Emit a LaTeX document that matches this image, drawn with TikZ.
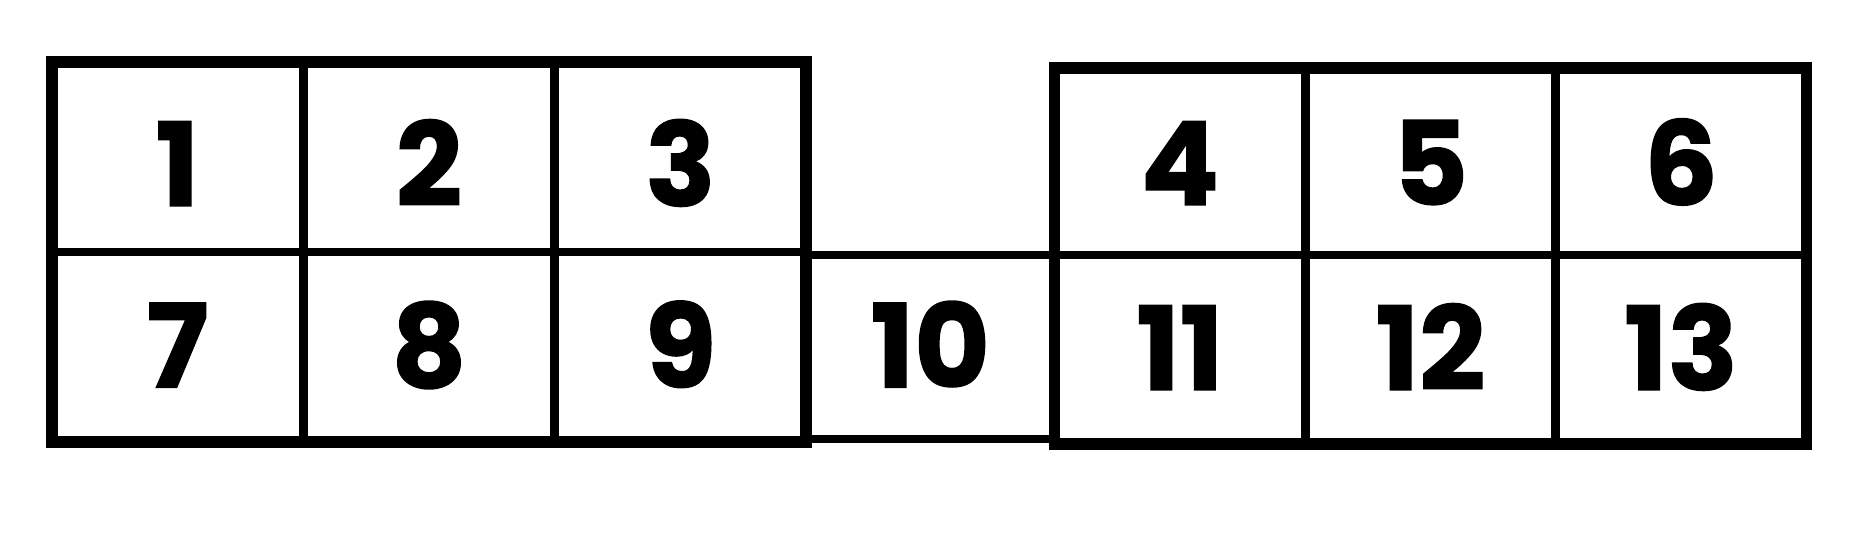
\documentclass[tikz,border=0pt]{standalone}
\usepackage{fontspec}
\setmainfont{Poppins}[BoldFeatures={FakeBold=1.2}]

\begin{document}
\begin{tikzpicture}[every node/.style={rectangle, draw, line width=2.4pt, inner sep=0pt, outer sep=0pt,
    minimum width=2.51cm, text height=23pt, text depth=0pt, font=\fontsize{33}{33}\selectfont\bfseries}]
                \useasboundingbox (0,0) rectangle (18.7,-5.44);
                % upper row
                \node[minimum height=1.90cm] (c1) at (1.775,-1.57) {\raisebox{-0.085cm}{1}};
                \node[minimum height=1.90cm] (c2) at (4.29,-1.57) {\raisebox{-0.085cm}{2}};
                \node[minimum height=1.90cm] (c3) at (6.805,-1.57) {\raisebox{-0.085cm}{3}};
                \node[minimum height=1.87cm] (c4) at (11.80,-1.615) {\raisebox{-0.03cm}{4}};
                \node[minimum height=1.87cm] (c5) at (14.305,-1.615) {\raisebox{-0.03cm}{5}};
                \node[minimum height=1.87cm] (c6) at (16.81,-1.615) {\raisebox{-0.03cm}{6}};
                % lower row
                \node[minimum height=1.90cm] (c7) at (1.775,-3.47) {7};
                \node[minimum height=1.90cm] (c8) at (4.29,-3.47) {8};
                \node[minimum height=1.90cm] (c9) at (6.805,-3.47) {9};
                \node[minimum height=1.84cm, minimum width=2.485cm] (c10) at (9.3025,-3.47) {10};
                \node[minimum height=1.89cm] (c11) at (11.80,-3.495) {11};
                \node[minimum height=1.89cm] (c12) at (14.305,-3.495) {12};
                \node[minimum height=1.89cm] (c13) at (16.81,-3.495) {13};
                % heavier outline of the two blocks
                \draw[line width=3.2pt] (c1.north west) rectangle (c9.south east);
                \draw[line width=3.2pt] (c4.north west) rectangle (c13.south east);
                \end{tikzpicture}
\end{document}
